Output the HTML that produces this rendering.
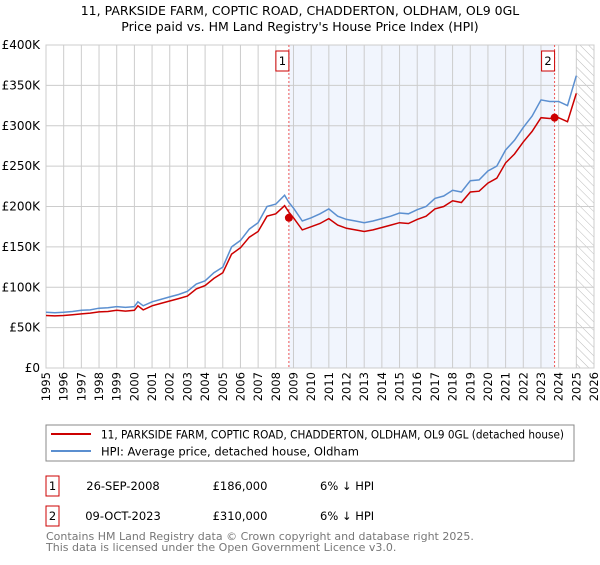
<!DOCTYPE html>
<html><head><meta charset="utf-8"><style>
body{margin:0;background:#fff;width:600px;height:560px;overflow:hidden;font-family:"Liberation Sans","DejaVu Sans",sans-serif}
svg text{font-family:"DejaVu Sans","Liberation Sans",sans-serif}
</style></head><body>
<svg width="600" height="560" xmlns="http://www.w3.org/2000/svg">
<defs><pattern id="hatch" width="6" height="6" patternUnits="userSpaceOnUse" patternTransform="rotate(-45)"><line x1="0" y1="0" x2="0" y2="6" stroke="#bbb" stroke-width="1"/></pattern></defs>
<text x="300" y="15" text-anchor="middle" font-size="12.5">11, PARKSIDE FARM, COPTIC ROAD, CHADDERTON, OLDHAM, OL9 0GL</text>
<text x="300" y="31" text-anchor="middle" font-size="12.5">Price paid vs. HM Land Registry's House Price Index (HPI)</text>
<g id="plot"></g>
<rect x="46" y="425" width="528" height="36" fill="#fff" stroke="#888"/>
<line x1="51" y1="434" x2="91" y2="434" stroke="#cc0000" stroke-width="2"/>
<text x="101" y="438.5" font-size="11.5" textLength="463" lengthAdjust="spacingAndGlyphs">11, PARKSIDE FARM, COPTIC ROAD, CHADDERTON, OLDHAM, OL9 0GL (detached house)</text>
<line x1="51" y1="451" x2="91" y2="451" stroke="#5b8fd0" stroke-width="2"/>
<text x="101" y="455.5" font-size="11.5">HPI: Average price, detached house, Oldham</text>
<g font-size="11.5">
<rect x="46" y="476" width="13" height="20" fill="#fff" stroke="#cc0000"/>
<text x="52.5" y="490" text-anchor="middle">1</text>
<text x="123" y="490" text-anchor="middle">26-SEP-2008</text>
<text x="240" y="490" text-anchor="middle">£186,000</text>
<text x="320" y="490">6% ↓ HPI</text>
<rect x="46" y="506" width="13" height="20" fill="#fff" stroke="#cc0000"/>
<text x="52.5" y="520" text-anchor="middle">2</text>
<text x="123" y="520" text-anchor="middle">09-OCT-2023</text>
<text x="240" y="520" text-anchor="middle">£310,000</text>
<text x="320" y="520">6% ↓ HPI</text>
</g>
<text x="46" y="540" font-size="11" fill="#777">Contains HM Land Registry data © Crown copyright and database right 2025.</text>
<text x="46" y="551" font-size="11" fill="#777">This data is licensed under the Open Government Licence v3.0.</text>
</svg>
<script>
const years=[1995,1996,1997,1998,1999,2000,2001,2002,2003,2004,2005,2006,2007,2008,2009,2010,2011,2012,2013,2014,2015,2016,2017,2018,2019,2020,2021,2022,2023,2024,2025,2026];
const yTicks=[0,50000,100000,150000,200000,250000,300000,350000,400000];
const yTickLabels=["£0","£50K","£100K","£150K","£200K","£250K","£300K","£350K","£400K"];
const hpiT=[1995,1995.5,1996,1996.5,1997,1997.5,1998,1998.5,1999,1999.5,2000,2000.2,2000.5,2001,2001.5,2002,2002.5,2003,2003.5,2004,2004.5,2005,2005.5,2006,2006.5,2007,2007.5,2008,2008.5,2008.74,2009,2009.5,2010,2010.5,2011,2011.5,2012,2012.5,2013,2013.5,2014,2014.5,2015,2015.5,2016,2016.5,2017,2017.5,2018,2018.5,2019,2019.5,2020,2020.5,2021,2021.5,2022,2022.5,2023,2023.5,2023.77,2024,2024.5,2025];
const hpiV=[69000,68500,69000,70000,71500,72000,74000,74500,76000,75000,76000,82000,77000,82000,85000,88000,91000,95000,104000,108000,118000,125000,150000,158000,172000,180000,200000,203000,214000,205000,198000,182000,186000,191000,197000,188000,184000,182000,180000,182000,185000,188000,192000,191000,196000,200000,210000,213000,220000,218000,232000,233000,244000,250000,270000,282000,298000,312000,332000,330000,330000,330000,325000,362000];
const priceT=[1995,1995.5,1996,1996.5,1997,1997.5,1998,1998.5,1999,1999.5,2000,2000.2,2000.5,2001,2001.5,2002,2002.5,2003,2003.5,2004,2004.5,2005,2005.5,2006,2006.5,2007,2007.5,2008,2008.5,2008.74,2009,2009.5,2010,2010.5,2011,2011.5,2012,2012.5,2013,2013.5,2014,2014.5,2015,2015.5,2016,2016.5,2017,2017.5,2018,2018.5,2019,2019.5,2020,2020.5,2021,2021.5,2022,2022.5,2023,2023.5,2023.77,2024,2024.5,2025];
const priceV=[65000,64500,65000,66000,67000,68000,69500,70000,71500,70500,71500,77000,72000,77000,80000,83000,86000,89000,98000,102000,111000,118000,141000,149000,162000,169000,188000,191000,201000,193000,186000,171000,175000,179000,185000,177000,173000,171000,169000,171000,174000,177000,180000,179000,184000,188000,197000,200000,207000,205000,218000,219000,229000,235000,254000,265000,280000,293000,310000,309000,310000,310000,305000,340000];
const saleT=[2008.74,2023.77];
const saleV=[186000,310000];
const saleLabels=["1","2"];
const X0=46,X1=594,Y0=368,Y1=45;
const x=t=>X0+(t-1995)/(2026-1995)*(X1-X0);
const y=v=>Y0-v/400000*(Y0-Y1);
const NS="http://www.w3.org/2000/svg";
const g=document.getElementById('plot');
function mk(tag,attrs,parent){const e=document.createElementNS(NS,tag);for(const k in attrs)e.setAttribute(k,attrs[k]);(parent||g).appendChild(e);return e;}
let r=mk('rect',{x:x(saleT[0]),y:Y1,width:x(saleT[1])-x(saleT[0]),height:Y0-Y1,fill:'#eef3fc',opacity:0.8});


r=mk('rect',{x:x(2025),y:Y1,width:X1-x(2025),height:Y0-Y1,fill:'url(#hatch)'});


years.forEach(yr=>{
 const l=mk('line',{x1:x(yr),x2:x(yr),y1:Y1,y2:Y0,stroke:'#ccc','stroke-width':1});
 
 
 const t=mk('text',{x:0,y:0,'font-size':11.5,'text-anchor':'end',transform:`translate(${x(yr)+4},${Y0+4}) rotate(-90)`});
 t.textContent=yr;
 
 
});
yTicks.forEach((v,i)=>{
 const l=mk('line',{x1:X0,x2:X1,y1:y(v),y2:y(v),stroke:'#ccc','stroke-width':1});
 
 
 const t=mk('text',{x:X0-6,y:y(v)+4,'font-size':12,'text-anchor':'end'});
 t.textContent=yTickLabels[i];
 
 
});
let ax=mk('rect',{x:X0,y:Y1,width:X1-X0,height:Y0-Y1,fill:'none',stroke:'#ccc'});


saleT.forEach((t,i)=>{
 const l=mk('line',{x1:x(t),x2:x(t),y1:Y1,y2:Y0,stroke:'#e55','stroke-width':1,'stroke-dasharray':'2,2'});
 
 
 const b=mk('rect',{x:x(t)-13,y:51,width:13,height:20,fill:'#fff',stroke:'#cc0000'});
 
 
 const tx=mk('text',{x:x(t)-6.5,y:65,'font-size':11.5,'text-anchor':'middle'});
 tx.textContent=saleLabels[i];
 
 
});
const path=(ts,vs)=>ts.map((t,i)=>(i?'L':'M')+x(t).toFixed(1)+','+y(vs[i]).toFixed(1)).join('');
let hp=mk('path',{d:path(hpiT,hpiV),fill:'none',stroke:'#5b8fd0','stroke-width':1.5});


let pp=mk('path',{d:path(priceT,priceV),fill:'none',stroke:'#cc0000','stroke-width':1.5});


saleT.forEach((t,i)=>{
 const c=mk('circle',{cx:x(t),cy:y(saleV[i]),r:4,fill:'#cc0000'});
 
 
});
</script>
</body></html>
